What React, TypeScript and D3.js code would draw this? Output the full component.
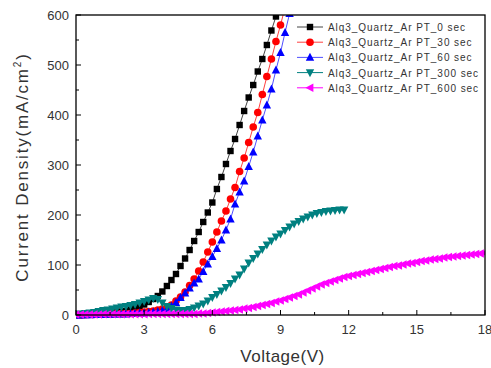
import React from "react";
import * as d3 from "d3";

const W = 491, H = 368;
const margin = { left: 76, right: 6, top: 15, bottom: 53 };

const xTicks = [0, 3, 6, 9, 12, 15, 18];
const yTicks = [0, 100, 200, 300, 400, 500, 600];

// step 0.2 V, starting at 0 V
const v0sec = [0, 0, 0.5, 1, 1, 1.5, 2, 3, 4, 5, 7, 8, 11, 14, 17, 21, 26, 32, 38, 47, 58, 70, 82, 98, 113, 130, 148, 166, 186, 205, 225, 252, 276, 302, 328, 352, 380, 408, 435, 460, 487, 512, 540, 569, 597, 625];
const v30sec = [0, 0, 0.5, 1, 1, 1.5, 1.5, 2, 2, 2.5, 2.5, 3, 3, 4, 5, 6, 7, 8, 10, 12, 14, 20, 28, 36, 46, 59, 72, 88, 106, 126, 146, 166, 188, 208, 232, 255, 287, 314, 345, 376, 405, 441, 477, 512, 547, 580, 615];
const v60sec = [0, 0, 0.5, 0.5, 1, 1, 1, 1.5, 1.5, 2, 2, 2, 3, 3, 4, 4, 5, 6, 7, 9, 12, 18, 25, 35, 44, 54, 64, 72, 87, 102, 117, 133, 150, 170, 192, 222, 246, 268, 297, 326, 358, 390, 420, 452, 490, 525, 565, 603];
const v300sec = [1, 2, 3, 4, 5, 7, 9, 10, 12, 14, 16, 17, 19, 21, 24, 27, 30, 33, 31, 24, 17, 13, 10, 9, 9, 11, 14, 18, 22, 28, 35, 41, 48, 55, 63, 72, 80, 92, 104, 113, 122, 131, 140, 148, 156, 162, 169, 176, 182, 187, 192, 196, 200, 203, 205, 207, 208, 209, 210, 210];
const v600sec = [1, 1, 1, 1, 1, 1, 1.5, 1.5, 1.5, 1.5, 1.5, 1.5, 1.5, 1.5, 1.5, 1.5, 2, 2, 2, 2, 2, 2, 2, 2, 2, 2, 2, 3, 3, 4, 5, 6, 7, 8, 9, 10, 11, 13, 14, 16, 18, 20, 22, 24, 27, 29, 32, 35, 38, 41, 45, 49, 53, 57, 61, 64, 67, 70, 73, 76, 78, 80, 82, 84, 86, 88, 90, 92, 94, 96, 98, 99, 101, 103, 104, 106, 108, 109, 111, 112, 113, 115, 116, 117, 118, 119, 120, 121, 122, 123, 124];

const seriesNames = ["Alq3_Quartz_Ar PT_0 sec", "Alq3_Quartz_Ar PT_30 sec", "Alq3_Quartz_Ar PT_60 sec", "Alq3_Quartz_Ar PT_300 sec", "Alq3_Quartz_Ar PT_600 sec"];
const seriesValues = [v0sec, v30sec, v60sec, v300sec, v600sec];
const colors = ["#000000", "#ff0000", "#0000ff", "#008080", "#ff00ff"];
const lineColors = ["#444444", "#ff4040", "#5050ff", "#008080", "#ff00ff"];
const shapes = ["square", "circle", "up", "down", "left"];
const STEP = 0.2;

function marker(shape: string, x: number, y: number, color: string, key: string | number) {
  const s = 3.8;
  if (shape === "square") return <rect key={key} x={x - 3.2} y={y - 3.2} width={6.4} height={6.4} fill={color} />;
  if (shape === "circle") return <circle key={key} cx={x} cy={y} r={3.8} fill={color} />;
  let pts = "";
  if (shape === "up") pts = `${x},${y - s - 0.8} ${x - s - 0.4},${y + s - 0.4} ${x + s + 0.4},${y + s - 0.4}`;
  if (shape === "down") pts = `${x},${y + s + 0.8} ${x - s - 0.4},${y - s + 0.4} ${x + s + 0.4},${y - s + 0.4}`;
  if (shape === "left") pts = `${x - s - 0.8},${y} ${x + s - 0.4},${y - s - 0.4} ${x + s - 0.4},${y + s + 0.4}`;
  return <polygon key={key} points={pts} fill={color} />;
}

export default function App() {
  const x = d3.scaleLinear().domain([0, 18]).range([margin.left, W - margin.right]);
  const y = d3.scaleLinear().domain([0, 600]).range([H - margin.bottom, margin.top]);
  const line = d3.line<[number, number]>().x(d => x(d[0])).y(d => y(d[1]));
  const xMinor = d3.range(0, 18.01, 1.5).filter(v => v % 3 !== 0);
  const yMinor = d3.range(50, 600, 100);
  const textColor = "#333";
  const font = "Arial, 'Liberation Sans', sans-serif";

  return (
    <svg width={W} height={H} style={{ position: "absolute", left: 0, top: 0, background: "#fff" }} fontFamily={font}>
      <defs>
        <clipPath id="plot">
          <rect x={x(0)} y={y(600)} width={x(18) - x(0)} height={y(0) - y(600) + 4} />
        </clipPath>
      </defs>
      <g clipPath="url(#plot)">
        {seriesValues.map((vals, si) => {
          const pts: [number, number][] = vals.map((v, i) => [i * STEP, v]);
          return (
            <g key={si}>
              <path d={line(pts) || ""} fill="none" stroke={lineColors[si]} strokeWidth={1} />
              {pts.map((p, i) => marker(shapes[si], x(p[0]), y(p[1]), colors[si], i))}
            </g>
          );
        })}
      </g>
      {/* frame */}
      <rect x={x(0)} y={y(600)} width={x(18) - x(0)} height={y(0) - y(600)} fill="none" stroke="#000" strokeWidth={1.3} />
      {/* x ticks */}
      {xTicks.map(t => (
        <g key={"xt" + t}>
          <line x1={x(t)} x2={x(t)} y1={y(0)} y2={y(0) - 5} stroke="#000" />
          <text x={x(t)} y={y(0) + 19} textAnchor="middle" fontSize={13} fill={textColor}>{t}</text>
        </g>
      ))}
      {xMinor.map(t => <line key={"xm" + t} x1={x(t)} x2={x(t)} y1={y(0)} y2={y(0) - 3} stroke="#000" />)}
      {yTicks.map(t => (
        <g key={"yt" + t}>
          <line x1={x(0)} x2={x(0) + 5} y1={y(t)} y2={y(t)} stroke="#000" />
          <text x={x(0) - 7} y={y(t) + 4.5} textAnchor="end" fontSize={13} fill={textColor}>{t}</text>
        </g>
      ))}
      {yMinor.map(t => <line key={"ym" + t} x1={x(0)} x2={x(0) + 3} y1={y(t)} y2={y(t)} stroke="#000" />)}
      {/* axis titles */}
      <text x={(x(0) + x(18)) / 2 + 2} y={362} textAnchor="middle" fontSize={17} letterSpacing={0.5} fill={textColor}>Voltage(V)</text>
      <text transform={`translate(28,${(y(0) + y(600)) / 2 + 2}) rotate(-90)`} textAnchor="middle" fontSize={17} letterSpacing={1.8} fill={textColor}>
        Current Density(mA/cm<tspan dy={-7} fontSize={10}>2</tspan><tspan dy={7}>)</tspan>
      </text>
      {/* legend */}
      {seriesNames.map((n, i) => {
        const ly = 27 + i * 15.2;
        return (
          <g key={"lg" + i}>
            <line x1={297} x2={323} y1={ly} y2={ly} stroke={lineColors[i]} strokeWidth={1} />
            {marker(shapes[i], 310, ly, colors[i], "m")}
            <text x={328} y={ly + 4} fontSize={10} letterSpacing={0.95} fill={textColor}>{n}</text>
          </g>
        );
      })}
    </svg>
  );
}
